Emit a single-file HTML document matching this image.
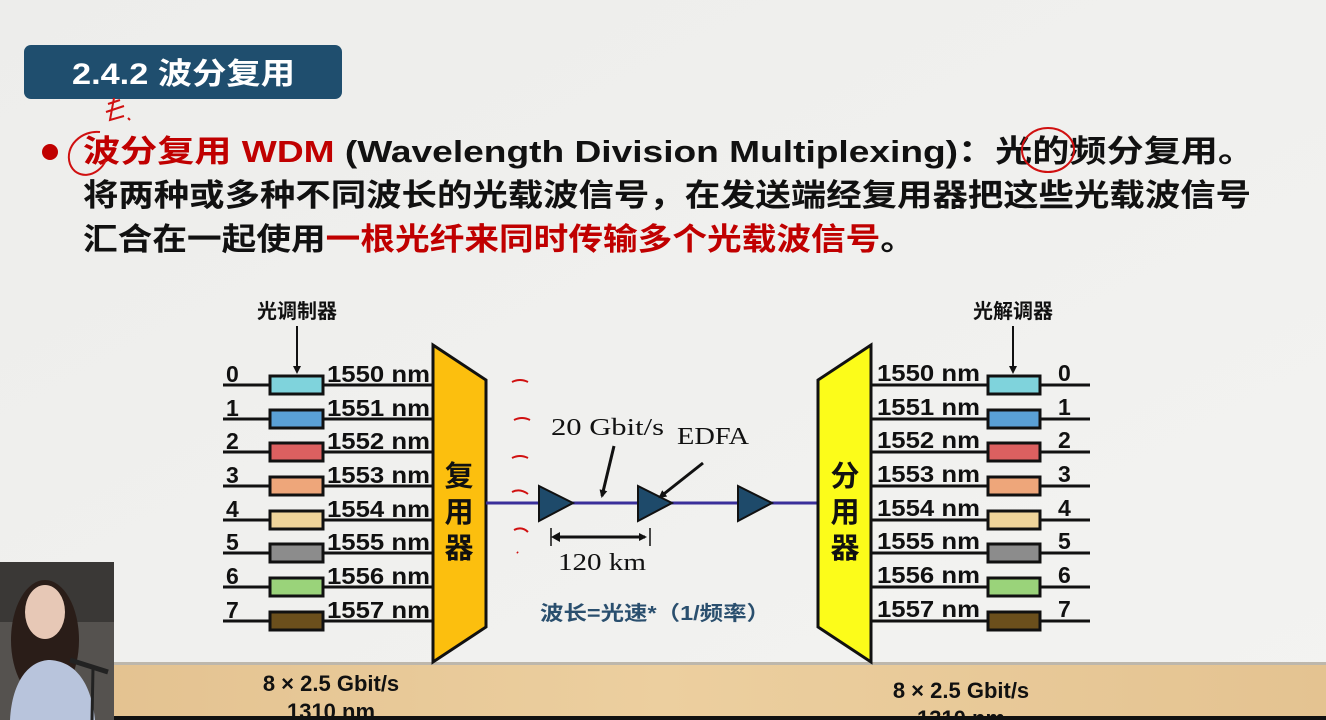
<!DOCTYPE html>
<html><head><meta charset="utf-8"><style>
html,body{margin:0;padding:0;width:1326px;height:720px;overflow:hidden;background:#efefed}
svg{display:block}
.s{font-family:"Liberation Sans","Noto Sans CJK SC",sans-serif}
.sf{font-family:"Liberation Serif","Noto Serif CJK SC",serif}
</style></head><body>
<svg width="1326" height="720" viewBox="0 0 1326 720" xmlns="http://www.w3.org/2000/svg">
<defs>
<linearGradient id="bg" x1="0" y1="0" x2="1" y2="1"><stop offset="0" stop-color="#ededeb"/><stop offset="1" stop-color="#f3f3f1"/></linearGradient>
<linearGradient id="wood" x1="0" y1="0" x2="1" y2="0"><stop offset="0" stop-color="#e2c08e"/><stop offset="0.5" stop-color="#eccf9f"/><stop offset="1" stop-color="#e4c391"/></linearGradient>
<marker id="ah" markerWidth="8" markerHeight="8" refX="6" refY="4" orient="auto" markerUnits="userSpaceOnUse"><path d="M0,0 L8,4 L0,8 z" fill="#111"/></marker>
</defs>
<rect width="1326" height="720" fill="url(#bg)"/>
<rect x="0" y="664" width="1326" height="56" fill="url(#wood)"/>
<rect x="0" y="662" width="1326" height="3" fill="#bdb7ac"/>

<g class="s">
<!-- title -->
<rect x="24" y="45" width="318" height="54" rx="7" fill="#1f4e6e"/>
<text x="72" y="84" font-size="30" font-weight="bold" fill="#fff" textLength="223" lengthAdjust="spacingAndGlyphs">2.4.2 波分复用</text>

<!-- bullet text -->
<circle cx="50" cy="152" r="8" fill="#c00000"/>
<text x="83" y="162" font-size="31" font-weight="bold" fill="#111" textLength="1172" lengthAdjust="spacingAndGlyphs"><tspan fill="#c00000">波分复用 WDM</tspan> (Wavelength Division Multiplexing)：光的频分复用。</text>
<text x="83" y="206" font-size="31" font-weight="bold" fill="#111" textLength="1168" lengthAdjust="spacingAndGlyphs">将两种或多种不同波长的光载波信号，在发送端经复用器把这些光载波信号</text>
<text x="83" y="250" font-size="31" font-weight="bold" fill="#111" textLength="832" lengthAdjust="spacingAndGlyphs">汇合在一起使用<tspan fill="#c00000">一根光纤来同时传输多个光载波信号</tspan>。</text>
<!-- handwritten annotations -->
<g fill="none" stroke="#d01010" stroke-width="2">
<path d="M100,132 C82,130 64,146 70,164 C76,180 98,178 106,160"/>
<path d="M108,104 l12,-4 M106,112 l18,-6 M114,98 l-4,22 l14,-4 M128,118 l2,2"/>
<ellipse cx="1048" cy="150" rx="26" ry="22"/>
<path d="M512,382 q8,-4 16,0 M514,420 q8,-4 16,0 M512,458 q8,-4 16,0 M512,492 q8,-4 16,2 M514,530 q8,-4 14,2 M517,552 l1,1"/>
</g>

<!-- left side -->
<text x="297" y="318" font-size="20" font-weight="bold" fill="#111" text-anchor="middle">光调制器</text>
<line x1="297" y1="326" x2="297" y2="372" stroke="#111" stroke-width="2" marker-end="url(#ah)"/>
<g font-size="23" font-weight="bold" fill="#111">
<g stroke="#111" stroke-width="3">
<line x1="223" y1="385" x2="432" y2="385"/><line x1="223" y1="419" x2="432" y2="419"/>
<line x1="223" y1="452" x2="432" y2="452"/><line x1="223" y1="486" x2="432" y2="486"/>
<line x1="223" y1="520" x2="432" y2="520"/><line x1="223" y1="553" x2="432" y2="553"/>
<line x1="223" y1="587" x2="432" y2="587"/><line x1="223" y1="621" x2="432" y2="621"/>
</g>
<g stroke="#111" stroke-width="3">
<rect x="270" y="376" width="53" height="18" fill="#7fd3dc"/>
<rect x="270" y="410" width="53" height="18" fill="#5aa0d6"/>
<rect x="270" y="443" width="53" height="18" fill="#dc6060"/>
<rect x="270" y="477" width="53" height="18" fill="#eea67a"/>
<rect x="270" y="511" width="53" height="18" fill="#efd49a"/>
<rect x="270" y="544" width="53" height="18" fill="#8c8c8c"/>
<rect x="270" y="578" width="53" height="18" fill="#9ad37a"/>
<rect x="270" y="612" width="53" height="18" fill="#6b4f1c"/>
</g>
<text x="226" y="382">0</text><text x="226" y="416">1</text><text x="226" y="449">2</text><text x="226" y="483">3</text>
<text x="226" y="517">4</text><text x="226" y="550">5</text><text x="226" y="584">6</text><text x="226" y="618">7</text>
<text x="327" y="382" textLength="103" lengthAdjust="spacingAndGlyphs">1550 nm</text>
<text x="327" y="416" textLength="103" lengthAdjust="spacingAndGlyphs">1551 nm</text>
<text x="327" y="449" textLength="103" lengthAdjust="spacingAndGlyphs">1552 nm</text>
<text x="327" y="483" textLength="103" lengthAdjust="spacingAndGlyphs">1553 nm</text>
<text x="327" y="517" textLength="103" lengthAdjust="spacingAndGlyphs">1554 nm</text>
<text x="327" y="550" textLength="103" lengthAdjust="spacingAndGlyphs">1555 nm</text>
<text x="327" y="584" textLength="103" lengthAdjust="spacingAndGlyphs">1556 nm</text>
<text x="327" y="618" textLength="103" lengthAdjust="spacingAndGlyphs">1557 nm</text>
</g>
<polygon points="433,345 486,380 486,627 433,662" fill="#fcbf0e" stroke="#111" stroke-width="3"/>
<text x="459" y="486" font-size="29" font-weight="bold" fill="#111" text-anchor="middle">复</text>
<text x="459" y="522" font-size="29" font-weight="bold" fill="#111" text-anchor="middle">用</text>
<text x="459" y="558" font-size="29" font-weight="bold" fill="#111" text-anchor="middle">器</text>

<!-- fiber -->
<line x1="486" y1="503" x2="820" y2="503" stroke="#3a2f9a" stroke-width="3"/>
<g fill="#1e4a6a" stroke="#111" stroke-width="2">
<polygon points="539,486 573,503 539,521"/>
<polygon points="638,486 672,503 638,521"/>
<polygon points="738,486 772,503 738,521"/>
</g>
<text x="551" y="435" font-size="24" fill="#111" class="sf" textLength="113" lengthAdjust="spacingAndGlyphs">20 Gbit/s</text>
<text x="677" y="444" font-size="24" fill="#111" class="sf" textLength="72" lengthAdjust="spacingAndGlyphs">EDFA</text>
<line x1="614" y1="446" x2="602" y2="496" stroke="#111" stroke-width="3" marker-end="url(#ah)"/>
<line x1="703" y1="463" x2="660" y2="497" stroke="#111" stroke-width="3" marker-end="url(#ah)"/>
<line x1="551" y1="528" x2="551" y2="546" stroke="#111" stroke-width="1.5"/>
<line x1="650" y1="528" x2="650" y2="546" stroke="#111" stroke-width="1.5"/>
<line x1="556" y1="537" x2="645" y2="537" stroke="#111" stroke-width="3" marker-end="url(#ah)"/>
<path d="M551,537 l9,-5 v10 z" fill="#111"/>
<text x="558" y="570" font-size="24" fill="#111" class="sf" textLength="88" lengthAdjust="spacingAndGlyphs">120 km</text>
<text x="540" y="620" font-size="20" font-weight="bold" fill="#2a4f6e" textLength="230" lengthAdjust="spacingAndGlyphs">波长=光速*（1/频率）</text>

<!-- right side -->
<polygon points="871,345 818,380 818,627 871,662" fill="#fcfc1a" stroke="#111" stroke-width="3"/>
<text x="845" y="486" font-size="29" font-weight="bold" fill="#111" text-anchor="middle">分</text>
<text x="845" y="522" font-size="29" font-weight="bold" fill="#111" text-anchor="middle">用</text>
<text x="845" y="558" font-size="29" font-weight="bold" fill="#111" text-anchor="middle">器</text>
<text x="1013" y="318" font-size="20" font-weight="bold" fill="#111" text-anchor="middle">光解调器</text>
<line x1="1013" y1="326" x2="1013" y2="372" stroke="#111" stroke-width="2" marker-end="url(#ah)"/>
<g font-size="23" font-weight="bold" fill="#111">
<g stroke="#111" stroke-width="3">
<line x1="871" y1="385" x2="1090" y2="385"/><line x1="871" y1="419" x2="1090" y2="419"/>
<line x1="871" y1="452" x2="1090" y2="452"/><line x1="871" y1="486" x2="1090" y2="486"/>
<line x1="871" y1="520" x2="1090" y2="520"/><line x1="871" y1="553" x2="1090" y2="553"/>
<line x1="871" y1="587" x2="1090" y2="587"/><line x1="871" y1="621" x2="1090" y2="621"/>
</g>
<g stroke="#111" stroke-width="3">
<rect x="988" y="376" width="52" height="18" fill="#7fd3dc"/>
<rect x="988" y="410" width="52" height="18" fill="#5aa0d6"/>
<rect x="988" y="443" width="52" height="18" fill="#dc6060"/>
<rect x="988" y="477" width="52" height="18" fill="#eea67a"/>
<rect x="988" y="511" width="52" height="18" fill="#efd49a"/>
<rect x="988" y="544" width="52" height="18" fill="#8c8c8c"/>
<rect x="988" y="578" width="52" height="18" fill="#9ad37a"/>
<rect x="988" y="612" width="52" height="18" fill="#6b4f1c"/>
</g>
<text x="877" y="381" textLength="103" lengthAdjust="spacingAndGlyphs">1550 nm</text>
<text x="877" y="415" textLength="103" lengthAdjust="spacingAndGlyphs">1551 nm</text>
<text x="877" y="448" textLength="103" lengthAdjust="spacingAndGlyphs">1552 nm</text>
<text x="877" y="482" textLength="103" lengthAdjust="spacingAndGlyphs">1553 nm</text>
<text x="877" y="516" textLength="103" lengthAdjust="spacingAndGlyphs">1554 nm</text>
<text x="877" y="549" textLength="103" lengthAdjust="spacingAndGlyphs">1555 nm</text>
<text x="877" y="583" textLength="103" lengthAdjust="spacingAndGlyphs">1556 nm</text>
<text x="877" y="617" textLength="103" lengthAdjust="spacingAndGlyphs">1557 nm</text>
<text x="1058" y="381">0</text><text x="1058" y="415">1</text><text x="1058" y="448">2</text><text x="1058" y="482">3</text>
<text x="1058" y="516">4</text><text x="1058" y="549">5</text><text x="1058" y="583">6</text><text x="1058" y="617">7</text>
</g>

<!-- bottom labels -->
<text x="331" y="691" font-size="22" font-weight="bold" fill="#111" text-anchor="middle">8 × 2.5 Gbit/s</text>
<text x="331" y="719" font-size="22" font-weight="bold" fill="#111" text-anchor="middle">1310 nm</text>
<text x="961" y="698" font-size="22" font-weight="bold" fill="#111" text-anchor="middle">8 × 2.5 Gbit/s</text>
<text x="961" y="726" font-size="22" font-weight="bold" fill="#111" text-anchor="middle">1310 nm</text>
</g>
<rect x="0" y="716" width="1326" height="4" fill="#111"/>

<!-- webcam -->
<rect x="0" y="562" width="114" height="158" fill="#55524f"/>
<rect x="0" y="562" width="114" height="60" fill="#3a3836"/>
<ellipse cx="45" cy="640" rx="34" ry="60" fill="#2a1d18"/>
<ellipse cx="45" cy="612" rx="20" ry="27" fill="#e7c8b6"/>
<path d="M10,720 C12,680 30,660 50,660 C80,662 92,690 95,720 z" fill="#b8c4dc"/>
<line x1="70" y1="660" x2="108" y2="672" stroke="#222" stroke-width="5"/>
<line x1="93" y1="668" x2="92" y2="720" stroke="#222" stroke-width="3"/>
</svg>
</body></html>
